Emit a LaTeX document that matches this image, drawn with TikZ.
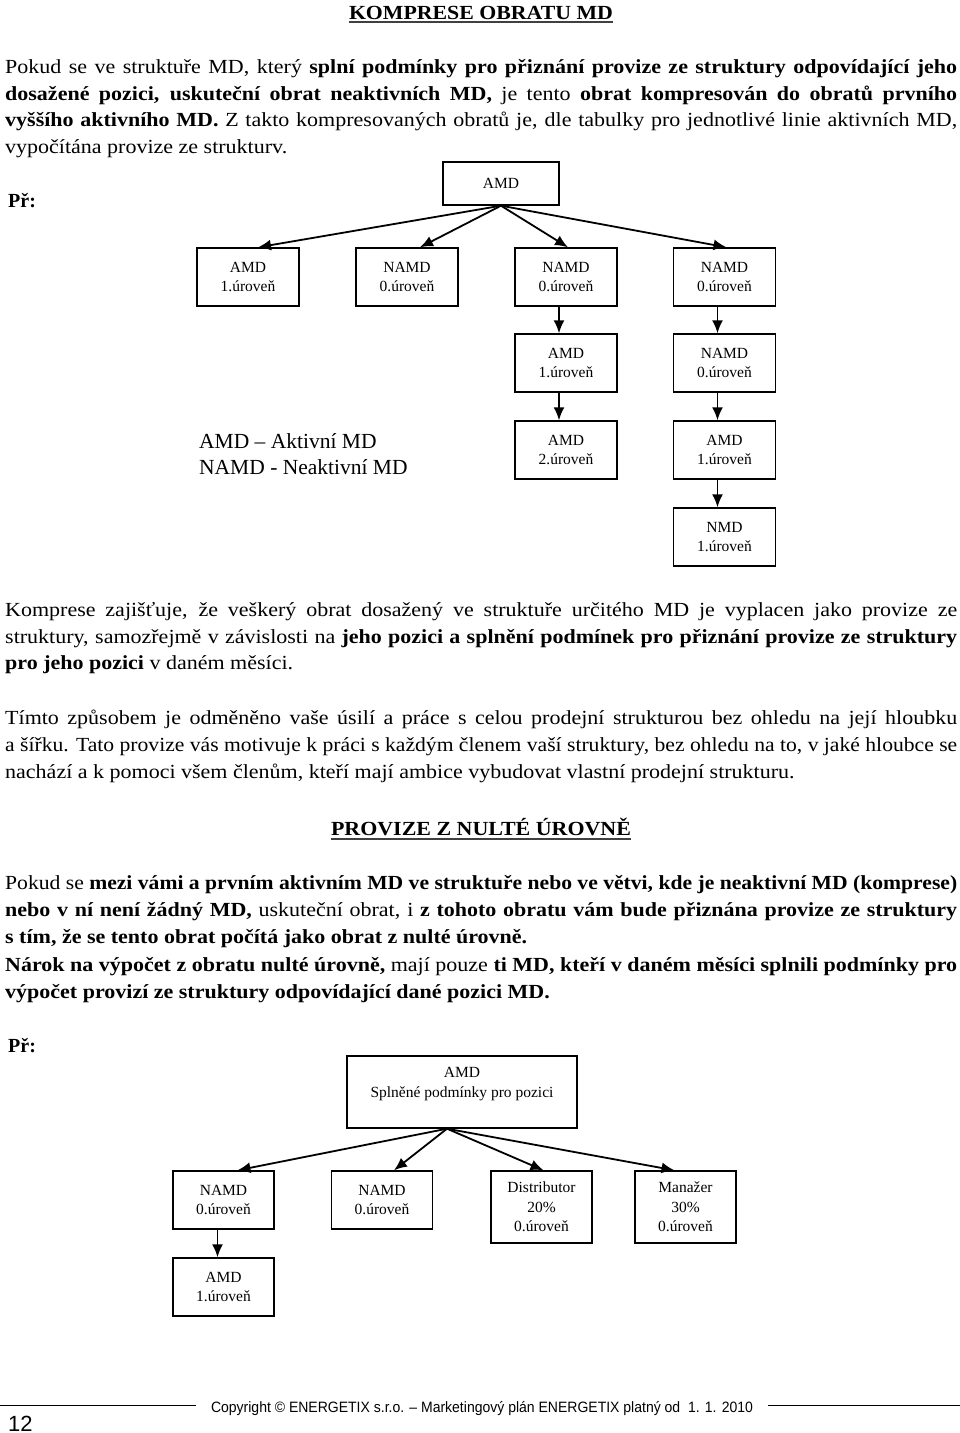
\documentclass[tikz,border=0pt]{standalone}
\usepackage{fontspec}
\setmainfont{Liberation Serif}
\newfontfamily\bodyf{Liberation Serif}[FakeStretch=1.1]
\newfontfamily\sansf{Liberation Sans}
\usepackage{graphicx}
\usetikzlibrary{arrows.meta}

\newlength\linew \setlength\linew{952pt}
\newlength\natw
\newsavebox\linebox
% justified line: spread the spaces, or squeeze it when too long
\newcommand\jline[1]{\sbox\linebox{#1}\setlength\natw{\wd\linebox}%
  \ifdim\natw>\linew\scalebox{\fpeval{\linew/\natw}}[1]{\usebox\linebox}%
  \else\makebox[\linew][s]{#1}\fi}
% text set to a given width
\newcommand\fitw[2]{\sbox\linebox{#2}\setlength\natw{\wd\linebox}%
  \scalebox{\fpeval{#1pt/\natw}}[1]{\usebox\linebox}}

\tikzset{
  body/.style={anchor=base west, inner sep=0pt, font=\bodyf\fontsize{20}{27}\selectfont},
  heading/.style={anchor=base, inner sep=0pt, font=\fontsize{20}{24}\selectfont\bfseries},
  mdbox/.style={draw, line width=1.4pt, inner sep=0pt, align=center,
    minimum width=102pt, minimum height=58pt, font=\fontsize{15.5}{19.5}\selectfont},
  link/.style={line width=1.8pt, -{Latex[length=13pt,width=11pt]}}
}

\begin{document}
\begin{tikzpicture}[x=1pt, y=-1pt]
  \useasboundingbox (0,0) rectangle (960,1433);

  % first part
  \node[heading] (tit1) at (481,19) {\fitw{264}{KOMPRESE OBRATU MD}};
  \draw[line width=1.5pt, black!75] ([yshift=-3pt]tit1.base west) -- ([yshift=-3pt]tit1.base east);

  \node[body] (p1a) at (5,73) {\jline{Pokud se ve struktuře MD, který \textbf{splní podmínky pro přiznání provize ze struktury odpovídající jeho}}};
  \node[body] (p1b) at (5,100) {\jline{\textbf{dosažené pozici, uskuteční obrat neaktivních MD,} je tento \textbf{obrat kompresován do obratů prvního}}};
  \node[body] (p1c) at (5,126) {\jline{\textbf{vyššího aktivního MD.} Z takto kompresovaných obratů je, dle tabulky pro jednotlivé linie aktivních MD,}};
  \node[body] (p1d) at (5,153) {vypočítána provize ze strukturv.};

  \node[heading, anchor=base west] (pr1) at (8,207) {Př:};

  % tree with compression
  \node[mdbox, minimum width=116pt, minimum height=43pt] (top1) at (501,183.5) {AMD};
  \node[mdbox] (a1) at (248,277) {AMD\\1.úroveň};
  \node[mdbox] (a2) at (407,277) {NAMD\\0.úroveň};
  \node[mdbox] (a3) at (566,277) {NAMD\\0.úroveň};
  \node[mdbox] (a4) at (724.5,277) {NAMD\\0.úroveň};
  \node[mdbox] (a5) at (566,363) {AMD\\1.úroveň};
  \node[mdbox] (a6) at (724.5,363) {NAMD\\0.úroveň};
  \node[mdbox] (a7) at (566,450) {AMD\\2.úroveň};
  \node[mdbox] (a8) at (724.5,450) {AMD\\1.úroveň};
  \node[mdbox] (a9) at (724.5,537) {NMD\\1.úroveň};

  \draw[link] (top1.south) -- ([xshift=10pt]a1.north);
  \draw[link] (top1.south) -- ([xshift=13pt]a2.north);
  \draw[link] (top1.south) -- ([xshift=2pt]a3.north);
  \draw[link] (top1.south) -- ([xshift=2pt]a4.north);
  \draw[link] ([xshift=-7pt]a3.south) -- ([xshift=-7pt]a5.north);
  \draw[link] ([xshift=-7pt]a5.south) -- ([xshift=-7pt]a7.north);
  \draw[link] ([xshift=-7pt]a4.south) -- ([xshift=-7pt]a6.north);
  \draw[link] ([xshift=-7pt]a6.south) -- ([xshift=-7pt]a8.north);
  \draw[link] ([xshift=-7pt]a8.south) -- ([xshift=-7pt]a9.north);

  \node[body, font=\fontsize{21.5}{26}\selectfont] (leg1) at (199,448) {AMD – Aktivní MD};
  \node[body, font=\fontsize{21.5}{26}\selectfont] (leg2) at (199,474) {NAMD - Neaktivní MD};

  \node[body] (p2a) at (5,616) {\jline{Komprese zajišťuje, že veškerý obrat dosažený ve struktuře určitého MD je vyplacen jako provize ze}};
  \node[body] (p2b) at (5,643) {\jline{struktury, samozřejmě v závislosti na \textbf{jeho pozici a splnění podmínek pro přiznání provize ze struktury}}};
  \node[body] (p2c) at (5,669) {\textbf{pro jeho pozici} v daném měsíci.};

  \node[body] (p3a) at (5,724) {\jline{Tímto způsobem je odměněno vaše úsilí a práce s celou prodejní strukturou bez ohledu na její hloubku}};
  \node[body] (p3b) at (5,751) {\jline{a šířku. Tato provize vás motivuje k práci s každým členem vaší struktury, bez ohledu na to, v jaké hloubce se}};
  \node[body] (p3c) at (5,778) {nachází a k pomoci všem členům, kteří mají ambice vybudovat vlastní prodejní strukturu.};

  % second part
  \node[heading] (tit2) at (481,835) {\fitw{300}{PROVIZE Z NULTÉ ÚROVNĚ}};
  \draw[line width=1.5pt, black!75] ([yshift=-4pt]tit2.base west) -- ([yshift=-4pt]tit2.base east);

  \node[body] (p4a) at (5,889) {\jline{Pokud se \textbf{mezi vámi a prvním aktivním MD ve struktuře nebo ve větvi, kde je neaktivní MD (komprese)}}};
  \node[body] (p4b) at (5,916) {\jline{\textbf{nebo v ní není žádný MD,} uskuteční obrat, i \textbf{z tohoto obratu vám bude přiznána provize ze struktury}}};
  \node[body] (p4c) at (5,943) {\textbf{s tím, že se tento obrat počítá jako obrat z nulté úrovně.}};
  \node[body] (p4d) at (5,971) {\jline{\textbf{Nárok na výpočet z obratu nulté úrovně,} mají pouze \textbf{ti MD, kteří v daném měsíci splnili podmínky pro}}};
  \node[body] (p4e) at (5,998) {\textbf{výpočet provizí ze struktury odpovídající dané pozici MD.}};

  \node[heading, anchor=base west] (pr2) at (8,1052) {Př:};

  % tree with zero level
  \node[mdbox, minimum width=230pt, minimum height=72pt] (top2) at (462,1092) {AMD\\Splněné podmínky pro pozici\\\mbox{}};
  \node[mdbox, minimum width=101pt] (c1) at (223.5,1200) {NAMD\\0.úroveň};
  \node[mdbox, minimum width=101pt] (c2) at (382,1200) {NAMD\\0.úroveň};
  \node[mdbox, minimum width=101pt, minimum height=72pt] (c3) at (541.5,1207) {Distributor\\20\%\\0.úroveň};
  \node[mdbox, minimum width=101pt, minimum height=72pt] (c4) at (685.5,1207) {Manažer\\30\%\\0.úroveň};
  \node[mdbox, minimum width=101pt] (c5) at (223.5,1287) {AMD\\1.úroveň};

  \coordinate (apex) at ([xshift=-15pt]top2.south);
  \draw[link] (apex) -- ([xshift=14pt]c1.north);
  \draw[link] (apex) -- ([xshift=12pt]c2.north);
  \draw[link] (apex) -- ([xshift=2pt]c3.north);
  \draw[link] (apex) -- ([xshift=-11pt]c4.north);
  \draw[link] ([xshift=-6pt]c1.south) -- ([xshift=-6pt]c5.north);

  % footer
  \node[anchor=base, inner sep=0pt, font=\sansf\fontsize{15}{18}\selectfont] (ftr) at (482,1412) {\fitw{542}{Copyright © ENERGETIX s.r.o. – Marketingový plán ENERGETIX platný od~~1. 1. 2010}};
  \draw[line width=0.8pt] (0,1405) -- ([xshift=-15pt]ftr.west |- 0,1405);
  \draw[line width=0.8pt] ([xshift=15pt]ftr.east |- 0,1405) -- (960,1405);
  \node[anchor=base west, inner sep=0pt, font=\sansf\fontsize{22}{24}\selectfont] (pg) at (8,1431) {12};
\end{tikzpicture}
\end{document}
